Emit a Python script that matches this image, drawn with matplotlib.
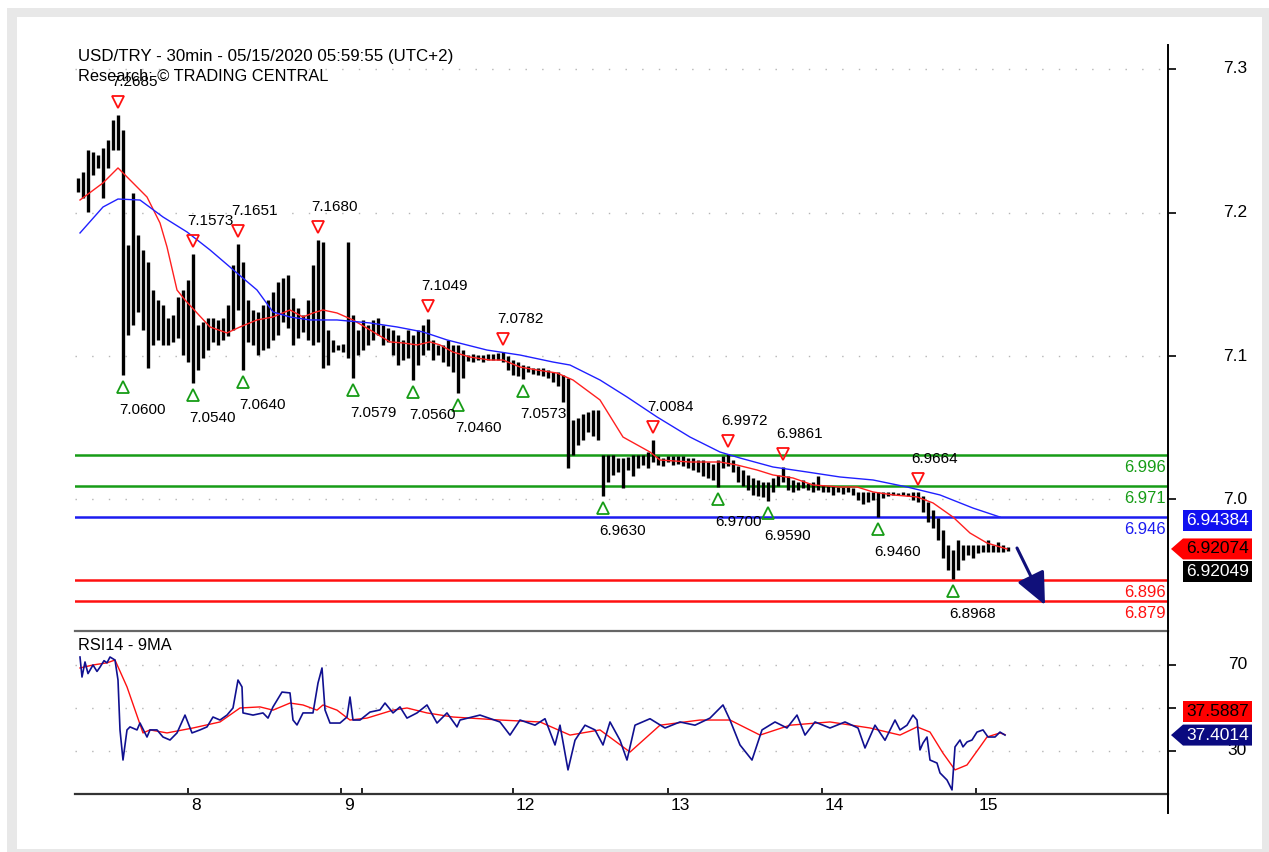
import numpy as np
import matplotlib
matplotlib.use('Agg')
import matplotlib.pyplot as plt
from matplotlib.patches import Rectangle, Polygon
from matplotlib.lines import Line2D
import matplotlib.transforms as mtransforms

plt.rcParams['font.family'] = ['Liberation Sans', 'DejaVu Sans']

W, H = 1269, 852

# ---------------- data ----------------
title = "USD/TRY - 30min - 05/15/2020 05:59:55 (UTC+2)"
subtitle = "Research: \u00a9 TRADING CENTRAL"

high = [7.2180, 7.2228, 7.2404, 7.2388, 7.2364, 7.2420, 7.2484, 7.2644, 7.2685, 7.2564,
        7.1643, 7.2060, 7.1723, 7.1603, 7.1507, 7.1282, 7.1202, 7.1162, 7.1058, 7.1082,
        7.1226, 7.1282, 7.1362, 7.1573, 7.1002, 7.1026, 7.1058, 7.1058, 7.1042, 7.1058,
        7.1162, 7.1483, 7.1651, 7.1507, 7.1202, 7.1122, 7.1106, 7.1162, 7.1202, 7.1266,
        7.1346, 7.1378, 7.1402, 7.1218, 7.1138, 7.1082, 7.1202, 7.1483, 7.1680, 7.1667,
        7.0962, 7.0882, 7.0842, 7.0850, 7.1667, 7.1082, 7.0962, 7.1042, 7.1002, 7.1042,
        7.1058, 7.1002, 7.0978, 7.0962, 7.0922, 7.0882, 7.0962, 7.0922, 7.0962, 7.1002,
        7.1049, 7.0882, 7.0842, 7.0842, 7.0882, 7.0842, 7.0842, 7.0801, 7.0761, 7.0769,
        7.0761, 7.0761, 7.0769, 7.0769, 7.0779, 7.0782, 7.0753, 7.0721, 7.0705, 7.0681,
        7.0673, 7.0657, 7.0657, 7.0657, 7.0641, 7.0625, 7.0625, 7.0601, 7.0577, 7.0241,
        7.0257, 7.0289, 7.0305, 7.0321, 7.0321, 6.9960, 6.9960, 6.9960, 6.9936, 6.9936,
        6.9944, 6.9960, 6.9960, 6.9960, 6.9984, 7.0084, 6.9952, 6.9936, 6.9952, 6.9952,
        6.9952, 6.9952, 6.9936, 6.9936, 6.9920, 6.9920, 6.9904, 6.9888, 6.9920, 6.9952,
        6.9972, 6.9920, 6.9872, 6.9840, 6.9800, 6.9776, 6.9760, 6.9744, 6.9744, 6.9776,
        6.9800, 6.9861, 6.9792, 6.9760, 6.9744, 6.9760, 6.9736, 6.9744, 6.9792, 6.9720,
        6.9712, 6.9712, 6.9704, 6.9704, 6.9704, 6.9696, 6.9660, 6.9660, 6.9660, 6.9660,
        6.9660, 6.9660, 6.9660, 6.9660, 6.9656, 6.9660, 6.9656, 6.9660, 6.9664, 6.9632,
        6.9584, 6.9520, 6.9455, 6.9359, 6.9239, 6.9199, 6.9279, 6.9239, 6.9239, 6.9239,
        6.9239, 6.9239, 6.9279, 6.9239, 6.9263, 6.9239, 6.9223]

low = [7.2068, 7.2019, 7.1907, 7.2204, 7.2260, 7.2019, 7.2260, 7.2404, 7.2404, 7.0600,
       7.0922, 7.1002, 7.1106, 7.0962, 7.0657, 7.0842, 7.0882, 7.0842, 7.0842, 7.0866,
       7.0898, 7.0761, 7.0705, 7.0540, 7.0641, 7.0737, 7.0801, 7.0866, 7.0842, 7.0882,
       7.0914, 7.0962, 7.1122, 7.0640, 7.0866, 7.0842, 7.0761, 7.0801, 7.0818, 7.0882,
       7.0922, 7.1026, 7.0978, 7.0842, 7.0898, 7.0946, 7.0882, 7.0842, 7.0866, 7.0657,
       7.0681, 7.0785, 7.0801, 7.0785, 7.0737, 7.0579, 7.0761, 7.0801, 7.0842, 7.0882,
       7.0922, 7.0842, 7.0866, 7.0761, 7.0681, 7.0721, 7.0737, 7.0560, 7.0681, 7.0761,
       7.0801, 7.0721, 7.0761, 7.0705, 7.0673, 7.0625, 7.0460, 7.0577, 7.0713, 7.0705,
       7.0721, 7.0705, 7.0721, 7.0721, 7.0721, 7.0705, 7.0641, 7.0601, 7.0593, 7.0573,
       7.0625, 7.0609, 7.0601, 7.0593, 7.0577, 7.0545, 7.0513, 7.0385, 6.9856, 6.9960,
       7.0040, 7.0080, 7.0144, 7.0112, 7.0080, 6.9630, 6.9744, 6.9800, 6.9824, 6.9696,
       6.9840, 6.9792, 6.9856, 6.9880, 6.9856, 6.9904, 6.9880, 6.9872, 6.9904, 6.9880,
       6.9888, 6.9872, 6.9856, 6.9840, 6.9824, 6.9792, 6.9776, 6.9760, 6.9700, 6.9856,
       6.9872, 6.9824, 6.9744, 6.9712, 6.9680, 6.9640, 6.9632, 6.9624, 6.9590, 6.9664,
       6.9712, 6.9744, 6.9680, 6.9664, 6.9680, 6.9696, 6.9680, 6.9664, 6.9680, 6.9664,
       6.9664, 6.9640, 6.9664, 6.9648, 6.9664, 6.9640, 6.9600, 6.9568, 6.9584, 6.9600,
       6.9460, 6.9616, 6.9632, 6.9640, 6.9640, 6.9640, 6.9632, 6.9600, 6.9584, 6.9504,
       6.9423, 6.9375, 6.9279, 6.9135, 6.9039, 6.8968, 6.9039, 6.9119, 6.9159, 6.9135,
       6.9175, 6.9183, 6.9183, 6.9183, 6.9183, 6.9183, 6.9191]

# fast moving average (red) and slow moving average (blue), sampled at bar positions
ma_fast_t = [0.4, 5, 8, 10.4, 13.8, 16.4, 17.8, 19.8, 21.4, 23.8, 26.4, 29.8, 32.4, 35.8, 39,
             42.4, 45, 47, 49, 51.8, 55, 58.4, 62.4, 65, 67.8, 70.4, 72.4, 75, 78.4, 82.4, 85,
             88.4, 91.8, 95.8, 99, 104.4, 109, 114.4, 116.4, 122.4, 128.4, 131.8, 135.8, 139,
             143, 147, 152.4, 155.8, 159, 163, 167.8, 171, 175, 178.4, 181.8, 185.8]
ma_fast = [7.2003, 7.2140, 7.2260, 7.2164, 7.2027, 7.1819, 7.1627, 7.1282, 7.1202, 7.1098,
           7.0986, 7.0938, 7.0986, 7.1042, 7.1066, 7.1122, 7.1066, 7.1098, 7.1122, 7.1098,
           7.1042, 7.0962, 7.0866, 7.0858, 7.0842, 7.0866, 7.0842, 7.0785, 7.0745, 7.0721,
           7.0721, 7.0665, 7.0641, 7.0617, 7.0561, 7.0401, 7.0104, 6.9984, 6.9920, 6.9904,
           6.9904, 6.9880, 6.9840, 6.9800, 6.9776, 6.9720, 6.9704, 6.9704, 6.9664, 6.9640,
           6.9624, 6.9576, 6.9463, 6.9335, 6.9255, 6.9207]
ma_slow_t = [0.4, 5, 8, 12.4, 17, 21.8, 26.4, 31.8, 35.8, 39, 42.4, 46.4, 51.8, 58.4, 63.8,
             69, 73.8, 81.8, 88.4, 95, 98.4, 104.4, 109.8, 115.8, 122.4, 128.4, 132.4, 139,
             145.8, 152.4, 159, 165.8, 172.4, 179, 184.4]
ma_slow = [7.1739, 7.1947, 7.2011, 7.2003, 7.1867, 7.1747, 7.1603, 7.1418, 7.1282, 7.1106,
           7.1066, 7.1042, 7.1042, 7.1018, 7.0986, 7.0946, 7.0882, 7.0801, 7.0761, 7.0705,
           7.0681, 7.0561, 7.0425, 7.0265, 7.0104, 6.9984, 6.9936, 6.9864, 6.9824, 6.9784,
           6.9760, 6.9704, 6.9640, 6.9535, 6.9463]

top_t = [8, 23, 32, 48, 70, 85, 115, 130, 141, 168]
top_v = [7.2685, 7.1573, 7.1651, 7.1680, 7.1049, 7.0782, 7.0084, 6.9972, 6.9861, 6.9664]
bot_t = [9, 23, 33, 55, 67, 76, 89, 105, 128, 138, 160, 175]
bot_v = [7.0600, 7.0540, 7.0640, 7.0579, 7.0560, 7.0460, 7.0573, 6.9630, 6.9700, 6.9590,
         6.9460, 6.8968]

resist_levels = [6.996, 6.971]
pivot_level = 6.946
support_levels = [6.896, 6.879]
last_slow, last_fast, last_close = 6.94384, 6.92074, 6.92049
forecast_t = [187.8, 193.4]
forecast_v = [6.9215, 6.8758]

rsi_t = [0.4, 0.8, 1.4, 2, 3, 3.8, 4.4, 5.2, 5.8, 6.4, 7.4, 8, 8.4, 9, 9.8, 10.4, 11.8, 12.4,
         13.8, 14.4, 15.8, 17, 18.4, 19.8, 21.4, 22.8, 24.4, 25.8, 27, 28.4, 29.8, 31, 32,
         32.8, 33, 35, 37, 38, 39, 40.8, 42.4, 43, 43.8, 45, 47, 48, 48.8, 49.4, 50.4, 52.4,
         53.8, 54.4, 55, 56.4, 58.4, 60.4, 61.4, 63, 64.4, 65.8, 67.8, 69.8, 71.8, 73.8, 75.8,
         76.4, 80.4, 84.4, 86.4, 88.4, 91.4, 93.4, 95.4, 96.4, 98, 99.4, 101.4, 103.4, 105,
         106.4, 108.4, 109.8, 111.4, 114.4, 117.4, 120.4, 123.4, 126.4, 129, 130.4, 132.4,
         134.8, 136.8, 139.4, 141.8, 143.8, 145.4, 147.4, 150.4, 153.4, 156, 157.4, 159.4,
         161.4, 163.4, 164.4, 165.8, 167, 167.8, 168.4, 169, 169.8, 170.4, 171.8, 172.4,
         173.8, 174.8, 175.4, 176.4, 177, 177.8, 178.8, 179.8, 181, 182, 183.4, 184.4, 185.4]
rsi = [73.7, 64.4, 71.4, 66.0, 70.0, 67.0, 69.0, 72.0, 71.0, 73.7, 72.3, 63.0, 39.8, 25.8,
       39.8, 41.2, 39.8, 43.0, 36.5, 39.8, 39.8, 36.5, 35.1, 38.4, 46.7, 38.4, 39.8, 41.2,
       45.8, 44.4, 46.7, 50.0, 63.0, 59.8, 47.7, 46.7, 47.7, 45.3, 50.5, 57.4, 57.0, 44.4,
       42.1, 47.7, 47.7, 61.6, 68.6, 49.1, 43.0, 43.0, 45.8, 55.1, 44.4, 44.4, 48.1, 49.1,
       52.3, 47.7, 50.5, 45.3, 47.7, 51.4, 43.0, 47.7, 41.2, 44.4, 46.7, 43.5, 37.4, 44.4,
       42.0, 45.0, 32.8, 42.0, 21.2, 35.0, 42.0, 39.8, 32.8, 43.5, 35.0, 25.8, 42.0, 45.0,
       40.7, 43.5, 42.0, 45.3, 51.4, 44.4, 32.8, 25.8, 39.8, 43.5, 40.7, 46.7, 37.4, 43.5,
       40.7, 43.5, 40.7, 31.4, 42.0, 35.0, 44.4, 39.8, 42.0, 46.7, 44.4, 30.5, 33.7, 36.5,
       25.8, 24.4, 19.8, 16.5, 11.9, 31.9, 35.1, 31.9, 34.2, 35.1, 38.8, 39.8, 36.5, 36.5,
       38.8, 37.4]
rsi_ma_t = [0.4, 3, 5.8, 7.4, 9.8, 13, 14.4, 17.8, 23, 28.4, 32.4, 36.4, 39, 42.4, 45, 47.8,
            49, 51.8, 54.4, 57.8, 63, 65.8, 69.8, 75, 84.4, 92.4, 98.4, 104.4, 110.4, 116.4,
            124.4, 130.4, 136.4, 142.4, 150.4, 158.4, 164.4, 167.8, 170.4, 173, 175.4, 177.8,
            180.4, 181.8, 184.4, 185.4]
rsi_ma = [68.6, 70.0, 71.0, 72.3, 59.8, 38.4, 39.8, 38.4, 40.7, 43.5, 50.0, 50.5, 49.0, 52.3,
          51.4, 49.0, 51.4, 49.0, 44.4, 45.3, 49.0, 50.0, 47.7, 45.8, 44.4, 43.5, 37.4, 39.8,
          29.5, 42.0, 44.4, 44.4, 37.4, 42.0, 43.5, 40.7, 37.4, 41.2, 38.8, 29.0, 21.2, 23.5,
          31.9, 36.5, 38.4, 37.6]
rsi_last, rsi_ma_last = 37.4014, 37.5887

price_ticks = [7.3053, 7.1899, 7.0753, 6.9607]
price_tick_labels = ["7.3", "7.2", "7.1", "7.0"]
rsi_ticks = [70, 50, 30]
rsi_tick_labels = ["70", "", "30"]
day_ticks = [22, 52.6, 87, 118, 148.8, 179.6]
day_labels = ["8", "9", "12", "13", "14", "15"]
extra_tick = [56.8]

# ---------------- figure ----------------
fig = plt.figure(figsize=(W / 100, H / 100), dpi=100)
fig.patch.set_facecolor('white')

def fx(x):
    return x / W

def fy(y):
    return 1 - y / H

fig.patches.append(Rectangle((fx(7), fy(852)), fx(1269) - fx(7), fy(8) - fy(852),
                             transform=fig.transFigure, fc='#e8e8e8', ec='none', zorder=-10))
fig.patches.append(Rectangle((fx(17), fy(849)), fx(1262) - fx(17), fy(17) - fy(849),
                             transform=fig.transFigure, fc='white', ec='none', zorder=-9))

L, R = 75, 1168
axp = fig.add_axes([fx(L), fy(631), fx(R) - fx(L), fy(45) - fy(631)])
axr = fig.add_axes([fx(L), fy(794), fx(R) - fx(L), fy(631) - fy(794)])
for ax in (axp, axr):
    ax.set_facecolor('none')
    ax.set_xlim(-0.6, 218)
    ax.spines['left'].set_visible(False)
    ax.spines['top'].set_visible(False)
    ax.spines['right'].set_linewidth(1.4)
    ax.spines['right'].set_color('black')
    ax.set_xticks([])
axp.set_ylim(6.8550, 7.3245)
axr.set_ylim(10.0, 85.8)
axp.spines['bottom'].set_color('#666666')
axp.spines['bottom'].set_linewidth(1.6)
axr.spines['bottom'].set_color('#333333')
axr.spines['bottom'].set_linewidth(1.6)

# gridlines (dotted)
for v in price_ticks:
    axp.axhline(v, color='#b5b5b5', lw=1.0, ls=(0, (1, 11)), zorder=0)
for v in rsi_ticks:
    axr.axhline(v, color='#b5b5b5', lw=1.0, ls=(0, (1, 11)), zorder=0)

# y ticks on the right
axp.yaxis.tick_right()
axp.set_yticks(price_ticks)
axp.set_yticklabels([])
axp.tick_params(axis='y', direction='out', length=5.5, width=1.2, colors='black')
axr.yaxis.tick_right()
axr.set_yticks(rsi_ticks)
axr.set_yticklabels([])
axr.tick_params(axis='y', direction='out', length=5.5, width=1.2, colors='black')
ylab_tr_p = mtransforms.blended_transform_factory(fig.transFigure, axp.transData)
for v, s in zip(price_ticks, price_tick_labels):
    axp.text(fx(1247), v, s, transform=ylab_tr_p, ha='right', va='center', fontsize=12.5,
             color='black')
ylab_tr_r = mtransforms.blended_transform_factory(fig.transFigure, axr.transData)
for v, s in zip(rsi_ticks, rsi_tick_labels):
    axr.text(fx(1247), v, s, transform=ylab_tr_r, ha='right', va='center', fontsize=12.5,
             color='black')

# x ticks
axr.set_xticks(day_ticks + extra_tick)
axr.tick_params(axis='x', direction='in', length=4.5, width=1.2, colors='black',
                labelbottom=False)
for t, s in zip(day_ticks, day_labels):
    axr.annotate(s, xy=(t, 0), xycoords=('data', 'axes fraction'), xytext=(2, -3),
                 textcoords='offset points', ha='left', va='top', fontsize=12.5)

# extend right axis line below the RSI panel
fig.add_artist(Line2D([fx(R), fx(R)], [fy(794), fy(813)], color='black', lw=1.4,
                      transform=fig.transFigure))

# ---------------- price panel ----------------
t = np.arange(len(high))
axp.vlines(t, low, high, color='black', lw=2.4, zorder=3)
axp.plot(ma_fast_t, ma_fast, color='#ff2020', lw=1.0, zorder=4)
axp.plot(ma_slow_t, ma_slow, color='#2020ff', lw=1.0, zorder=4)

green = '#169c16'
for lv in resist_levels:
    axp.axhline(lv, color=green, lw=1.8, zorder=2)
axp.axhline(pivot_level, color='#1c1cf0', lw=1.8, zorder=2)
for lv in support_levels:
    axp.axhline(lv, color='#ff1010', lw=1.8, zorder=2)
lvl_tr = mtransforms.blended_transform_factory(axp.transAxes, axp.transData)
for lv, c in zip(resist_levels + [pivot_level] + support_levels,
                 [green, green, '#1c1cf0', '#ff1010', '#ff1010']):
    axp.annotate(f"{lv:.3f}", xy=(0.998, lv), xycoords=lvl_tr, xytext=(0, -9),
                 textcoords='offset points', ha='right', va='center', fontsize=12, color=c)

px = 0.72  # points per pixel
off_up = mtransforms.offset_copy(axp.transData, fig=fig, x=0, y=13, units='dots')
off_dn = mtransforms.offset_copy(axp.transData, fig=fig, x=0, y=-12, units='dots')
axp.plot(top_t, top_v, ls='none', marker='v', ms=9, mfc='none', mec='#ff1010', mew=1.3,
         transform=off_up, zorder=5, clip_on=False)
axp.plot(bot_t, bot_v, ls='none', marker='^', ms=9, mfc='none', mec='#169c16', mew=1.3,
         transform=off_dn, zorder=5, clip_on=False)
for tt, v in zip(top_t, top_v):
    axp.annotate(f"{v:.4f}", xy=(tt, v), xytext=(17 * px, 33 * px), textcoords='offset points',
                 ha='center', va='center', fontsize=11, color='black', zorder=6)
for tt, v in zip(bot_t, bot_v):
    axp.annotate(f"{v:.4f}", xy=(tt, v), xytext=(20 * px, -35 * px), textcoords='offset points',
                 ha='center', va='center', fontsize=11, color='black', zorder=6)

axp.annotate('', xy=(forecast_t[1], forecast_v[1]), xytext=(forecast_t[0], forecast_v[0]),
             arrowprops=dict(arrowstyle='-|>,head_length=1.1,head_width=0.5', color='#10107a',
                             lw=2.2, shrinkA=0, shrinkB=0, mutation_scale=18), zorder=6,
             annotation_clip=False)

fig.text(fx(78), fy(57), title, ha='left', va='center', fontsize=12.2)
fig.text(fx(78), fy(76), subtitle, ha='left', va='center', fontsize=11.8)

# ---------------- RSI panel ----------------
axr.plot(rsi_ma_t, rsi_ma, color='#ff1010', lw=1.0, zorder=3)
axr.plot(rsi_t, rsi, color='#101090', lw=1.2, zorder=4)
fig.text(fx(78), fy(646), "RSI14 - 9MA", ha='left', va='center', fontsize=11.8)

# ---------------- value tags on the right ----------------
def tag(ax, value, text, fc, tc, arrow=False, dy=0.0):
    yc = H - ax.transData.transform((0, value))[1] + dy
    h = 10.5
    if arrow:
        pts = [(1171, yc), (1183, yc - h), (1252, yc - h), (1252, yc + h), (1183, yc + h)]
    else:
        pts = [(1183, yc - h), (1252, yc - h), (1252, yc + h), (1183, yc + h)]
    fig.patches.append(Polygon([(fx(a), fy(b)) for a, b in pts], closed=True,
                               transform=fig.transFigure, fc=fc, ec='none', zorder=5))
    fig.text(fx(1217.5), fy(yc), text, ha='center', va='center', color=tc, fontsize=12.5,
             zorder=6)

tag(axp, last_slow, f"{last_slow:.5f}", '#1010f0', 'white')
tag(axp, last_fast, f"{last_fast:.5f}", '#ff0000', 'black', arrow=True)
tag(axp, last_fast, f"{last_close:.5f}", 'black', 'white', dy=23)
tag(axr, rsi_last, f"{rsi_last:.4f}", '#0a0a80', 'white', arrow=True)
tag(axr, rsi_last, f"{rsi_ma_last:.4f}", '#ff0000', 'black', dy=-24)

fig.savefig('out.png', dpi=100)
